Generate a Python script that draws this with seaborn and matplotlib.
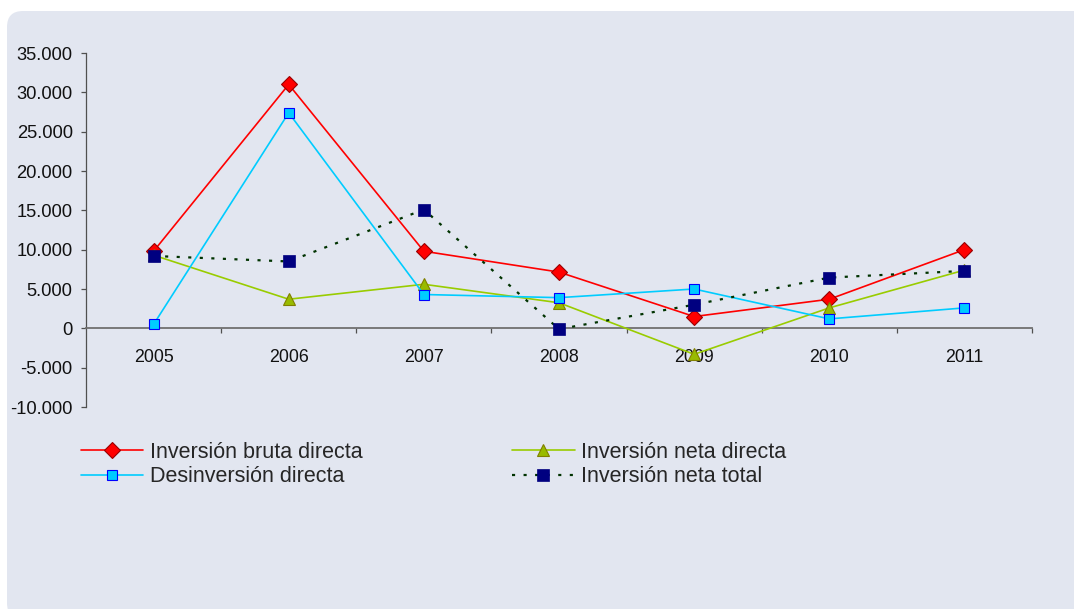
import numpy as np
import pandas as pd
import matplotlib
matplotlib.use("Agg")
import matplotlib.pyplot as plt
import seaborn as sns
from matplotlib.patches import FancyBboxPatch
from matplotlib.ticker import FuncFormatter, MultipleLocator, FixedLocator

# Data (millones)
years = [2005, 2006, 2007, 2008, 2009, 2010, 2011]
bruta_directa = [9800, 31000, 9800, 7150, 1500, 3700, 10000]
desinversion = [500, 27400, 4300, 3900, 5000, 1200, 2600]
neta_directa = [9300, 3700, 5600, 3250, -3300, 2600, 7400]
neta_total = [9200, 8500, 15100, -100, 3000, 6450, 7300]

labels = ["Inversión bruta directa", "Desinversión directa",
          "Inversión neta directa", "Inversión neta total"]

sns.set_style("ticks")
plt.rcParams['font.family'] = ['Liberation Sans', 'DejaVu Sans']

fig = plt.figure(figsize=(10.74, 6.09), dpi=100)
fig.patch.set_facecolor("white")

# rounded light panel behind everything
bg = FancyBboxPatch((7, -10), 1120, 608, boxstyle="round,pad=0,rounding_size=16",
                    transform=None, facecolor="#e2e6f0", edgecolor="none", zorder=-5)
fig.patches.append(bg)

ax = fig.add_axes([86 / 1074, 1 - 407 / 609, (1032 - 86) / 1074, (407 - 53) / 609])
ax.set_facecolor("none")
ax.set_zorder(2)

df = pd.DataFrame({"year": years, "bruta": bruta_directa, "desinv": desinversion,
                   "neta": neta_directa, "total": neta_total})

sns.lineplot(data=df, x="year", y="bruta", ax=ax, color="#ff0000", lw=1.2,
             marker="D", markersize=8.2, markerfacecolor="#ff0000",
             markeredgecolor="#990000", markeredgewidth=0.8, label=labels[0], zorder=3)
sns.lineplot(data=df, x="year", y="neta", ax=ax, color="#99cc00", lw=1.2,
             marker="^", markersize=8.8, markerfacecolor="#99bb00",
             markeredgecolor="#808000", markeredgewidth=0.8, label=labels[2], zorder=3)
sns.lineplot(data=df, x="year", y="desinv", ax=ax, color="#00ccff", lw=1.2,
             marker="s", markersize=7.2, markerfacecolor="#00ccff",
             markeredgecolor="#0000ff", markeredgewidth=0.8, label=labels[1], zorder=4)
sns.lineplot(data=df, x="year", y="total", ax=ax, color="#003300", lw=1.6,
             linestyle=(0, (1.4, 3.8)), marker="s", markersize=8.8,
             markerfacecolor="#000080", markeredgecolor="#000080",
             markeredgewidth=0.5, label=labels[3], zorder=5)

ax.set_xlim(years[0] - 0.5, years[-1] + 0.5)
ax.set_ylim(-10000, 35000)
ax.set_xlabel("")
ax.set_ylabel("")

ax.yaxis.set_major_locator(MultipleLocator(5000))
ax.yaxis.set_major_formatter(FuncFormatter(lambda v, p: f"{v:,.0f}".replace(",", ".")))
ax.xaxis.set_major_locator(FixedLocator(years))
ax.xaxis.set_minor_locator(FixedLocator([y + 0.5 for y in years]))
ax.xaxis.set_major_formatter(FuncFormatter(lambda v, p: f"{int(round(v))}"))

for s in ["top", "right"]:
    ax.spines[s].set_visible(False)
ax.spines["bottom"].set_position(("data", 0))
ax.spines["bottom"].set_color("#707070")
ax.spines["bottom"].set_linewidth(1.3)
ax.spines["left"].set_color("#505050")
ax.spines["left"].set_linewidth(0.9)

ax.tick_params(axis="y", direction="out", length=3.6, width=0.9, color="#505050",
               pad=6, labelsize=13.2, labelcolor="#111111")
ax.tick_params(axis="x", which="major", length=0, pad=15, labelsize=12.8,
               labelcolor="#111111")
ax.tick_params(axis="x", which="minor", direction="out", length=3.5, width=0.9,
               color="#505050")

handles, labs = ax.get_legend_handles_labels()
ax.get_legend().remove()
hmap = dict(zip(labs, handles))
fig.legend([hmap[l] for l in labels], labels, loc="upper left",
           bbox_to_anchor=(81 / 1074, 1 - 442 / 609), ncol=2, frameon=False,
           fontsize=15.5, handlelength=2.9, handletextpad=0.3, columnspacing=6.95,
           labelspacing=0.145, borderpad=0, borderaxespad=0)

fig.savefig("out.png", dpi=100)
